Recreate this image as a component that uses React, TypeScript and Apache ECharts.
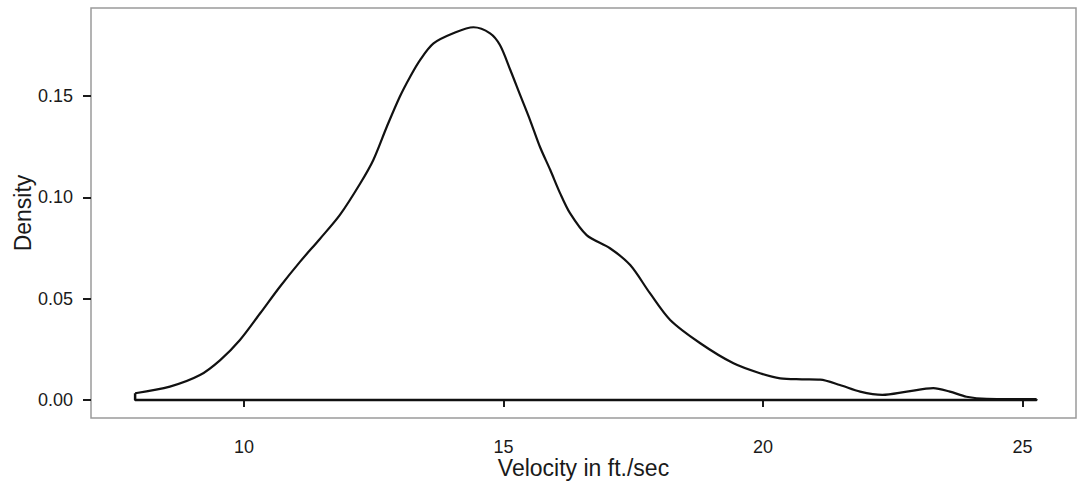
import React, { useEffect, useRef } from "react";
import * as echarts from "echarts";

const velocity: number[] = [7.9, 8.57, 9.15, 9.54, 9.92, 10.31, 10.69, 11.08, 11.46, 11.85, 12.24, 12.49, 12.75, 13.0, 13.2, 13.39, 13.65, 14.03, 14.42, 14.74, 14.93, 15.13, 15.32, 15.51, 15.7, 15.9, 16.09, 16.28, 16.6, 17.05, 17.44, 17.82, 18.21, 18.79, 19.43, 19.94, 20.33, 20.75, 21.1, 21.48, 21.87, 22.3, 22.77, 23.28, 23.6, 23.92, 24.31, 24.8, 25.27];
const density: number[] = [0.0033, 0.0066, 0.0123, 0.0197, 0.0296, 0.0428, 0.0559, 0.0683, 0.0795, 0.0915, 0.107, 0.1185, 0.1349, 0.1497, 0.1596, 0.1678, 0.176, 0.181, 0.184, 0.181, 0.1752, 0.1629, 0.1505, 0.1382, 0.125, 0.1135, 0.102, 0.0922, 0.0814, 0.0749, 0.0666, 0.0527, 0.0395, 0.028, 0.0181, 0.0132, 0.0107, 0.0102, 0.01, 0.0074, 0.0041, 0.0025, 0.0041, 0.0058, 0.0041, 0.0016, 0.0005, 0.0004, 0.0004];
const xTicks: number[] = [10, 15, 20, 25];
const yTicks: number[] = [0, 0.05, 0.1, 0.15];
const xTitle = "Velocity in ft./sec";
const yTitle = "Density";

const FONT = "'Liberation Sans', Arial, Helvetica, sans-serif";

export default function App() {
  const ref = useRef<HTMLDivElement>(null);
  useEffect(() => {
    if (!ref.current) return;
    const chart = echarts.init(ref.current, null, { renderer: "svg" });
    const curve = velocity.map((v, i) => [v, density[i]]);
    const first = velocity[0];
    const last = velocity[velocity.length - 1];
    const baseline = [
      [first, density[0]],
      [first, 0],
      [last, 0],
      [last, density[density.length - 1]],
    ];
    chart.setOption({
      animation: false,
      backgroundColor: "#ffffff",
      grid: {
        left: 91,
        top: 8,
        right: 1,
        bottom: 65,
        containLabel: false,
        outerBoundsMode: "none",
        show: true,
        borderColor: "#9a9a9a",
        borderWidth: 1.5,
        backgroundColor: "transparent",
      },
      xAxis: {
        type: "value",
        min: 7.05,
        max: 26.03,
        name: xTitle,
        nameLocation: "middle",
        nameGap: 38,
        nameMoveOverlap: false,
        nameTextStyle: { fontFamily: FONT, fontSize: 23, lineHeight: 23, color: "#1a1a1a" },
        axisLine: { show: false },
        splitLine: { show: false },
        axisTick: {
          show: true,
          length: 7,
          customValues: xTicks,
          lineStyle: { color: "#1a1a1a", width: 2 },
        },
        axisLabel: {
          customValues: xTicks,
          margin: 20,
          fontFamily: FONT,
          fontSize: 18,
          lineHeight: 17,
          color: "#1a1a1a",
        },
      },
      yAxis: {
        type: "value",
        min: -0.0089,
        max: 0.1935,
        name: yTitle,
        nameLocation: "middle",
        nameGap: 57,
        nameRotate: 90,
        nameMoveOverlap: false,
        nameTextStyle: { fontFamily: FONT, fontSize: 23, lineHeight: 23, color: "#1a1a1a" },
        axisLine: { show: false },
        splitLine: { show: false },
        axisTick: {
          show: true,
          length: 8,
          customValues: yTicks,
          lineStyle: { color: "#1a1a1a", width: 2 },
        },
        axisLabel: {
          customValues: yTicks,
          margin: 18,
          fontFamily: FONT,
          fontSize: 18,
          color: "#1a1a1a",
          formatter: (v: number) => v.toFixed(2),
        },
      },
      series: [
        {
          type: "line",
          data: curve,
          smooth: 0.3,
          showSymbol: false,
          lineStyle: { color: "#111111", width: 2.2 },
          silent: true,
        },
        {
          type: "line",
          data: baseline,
          smooth: false,
          showSymbol: false,
          lineStyle: { color: "#111111", width: 2.5 },
          silent: true,
        },
      ],
    });
    return () => chart.dispose();
  }, []);
  return (
    <div
      ref={ref}
      style={{ position: "absolute", left: 0, top: 0, width: 1077, height: 483 }}
    />
  );
}
